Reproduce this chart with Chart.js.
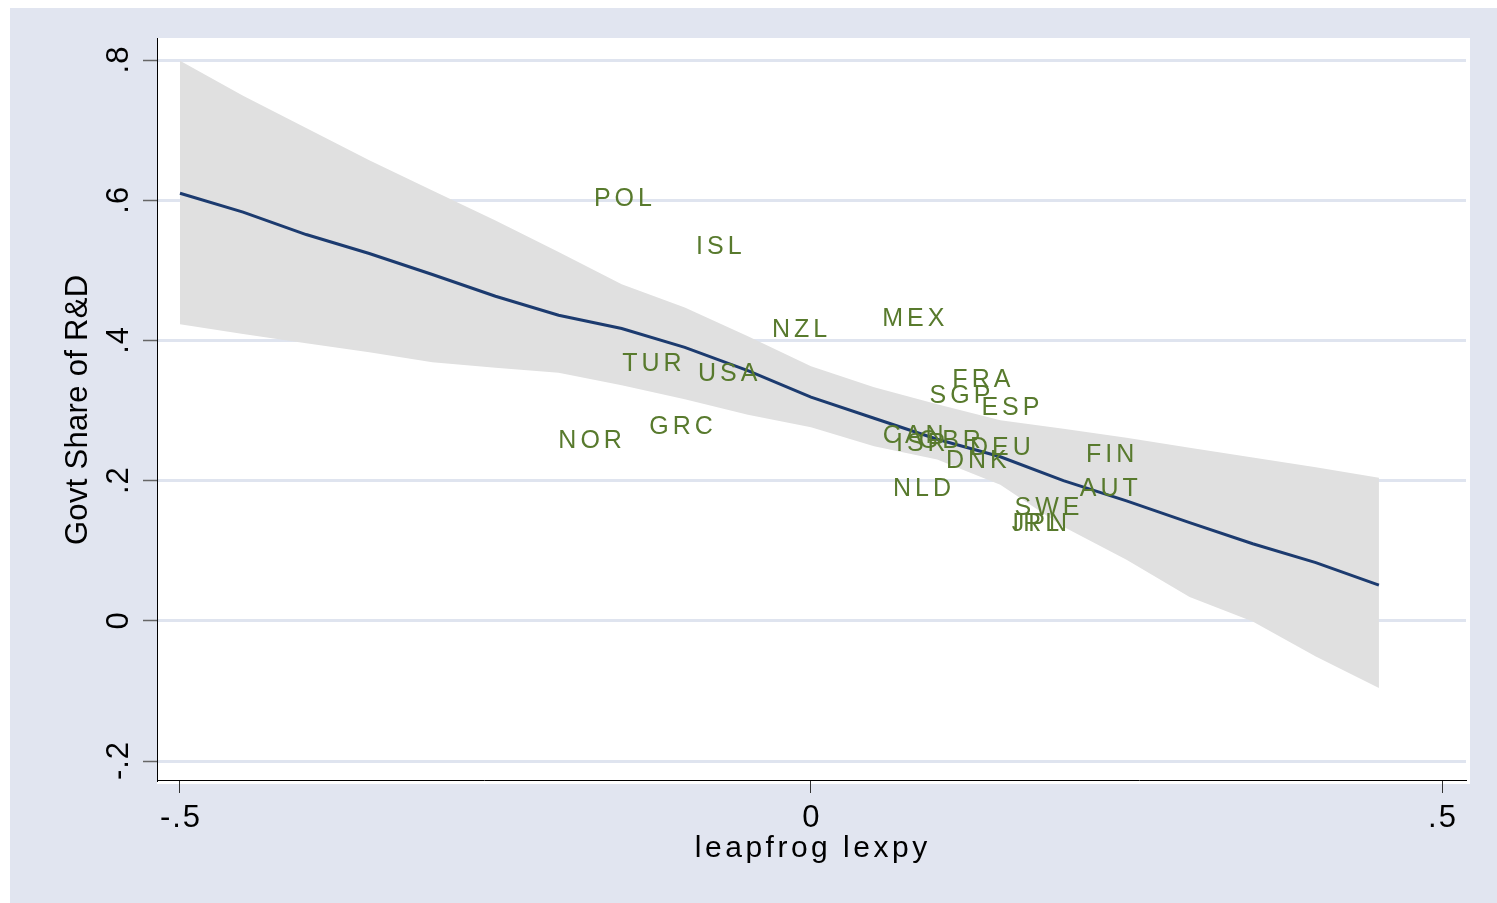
<!DOCTYPE html>
<html>
<head>
<meta charset="utf-8">
<title>Govt Share of R&amp;D vs leapfrog lexpy</title>
<script src="https://cdn.jsdelivr.net/npm/chart.js@4.4.0/dist/chart.umd.min.js"></script>
<style>
  html, body { margin: 0; padding: 0; background: #ffffff; }
  #wrap { width: 1497px; height: 903px; position: relative; }
  canvas { display: block; }
</style>
</head>
<body>
<div id="wrap"><canvas id="chart" width="1497" height="903"></canvas></div>
<script>
// Country labels placed at (leapfrog lexpy, government share of R&D)
const countries = ['POL', 'ISL', 'NZL', 'MEX', 'TUR', 'USA', 'GRC', 'NOR', 'FRA', 'SGP', 'ESP',
                   'CAN', 'ISR', 'GBR', 'DEU', 'DNK', 'NLD', 'FIN', 'AUT', 'SWE', 'JPN', 'IRL'];
const countryX = [-0.149, -0.073, -0.009, 0.081, -0.126, -0.066, -0.103, -0.175, 0.135, 0.118, 0.158,
                  0.081, 0.087, 0.110, 0.150, 0.131, 0.088, 0.237, 0.236, 0.187, 0.181, 0.178];
const countryY = [0.605, 0.536, 0.417, 0.434, 0.369, 0.355, 0.279, 0.259, 0.347, 0.324, 0.307,
                  0.267, 0.255, 0.260, 0.249, 0.231, 0.191, 0.240, 0.191, 0.164, 0.141, 0.141];

// Fitted curve and its confidence band on an evaluation grid
const gridX = [-0.50, -0.45, -0.40, -0.35, -0.30, -0.25, -0.20, -0.15, -0.10, -0.05,
                0.00,  0.05,  0.10,  0.15,  0.20,  0.25,  0.30,  0.35,  0.40,  0.45];
const fitY = [0.610, 0.583, 0.551, 0.524, 0.494, 0.463, 0.436, 0.417, 0.390, 0.357,
              0.319, 0.289, 0.259, 0.234, 0.200, 0.171, 0.140, 0.110, 0.083, 0.051];
const ciUpper = [0.799, 0.749, 0.703, 0.657, 0.614, 0.571, 0.526, 0.480, 0.447, 0.406,
                 0.363, 0.333, 0.309, 0.286, 0.274, 0.261, 0.247, 0.233, 0.219, 0.204];
const ciLower = [0.423, 0.409, 0.396, 0.383, 0.369, 0.361, 0.354, 0.336, 0.316, 0.294,
                 0.276, 0.249, 0.230, 0.194, 0.134, 0.087, 0.034, -0.001, -0.051, -0.096];

// Axis ticks and their labels
const xTicks = [-0.5, 0, 0.5];
const xTickLabels = ['-.5', '0', '.5'];
const yTicks = [-0.2, 0, 0.2, 0.4, 0.6, 0.8];
const yTickLabels = ['-.2', '0', '.2', '.4', '.6', '.8'];
const xTitle = 'leapfrog lexpy';
const yTitle = 'Govt Share of R&D';

const FONT = '"Liberation Sans", Arial, Helvetica, sans-serif';
const COLORS = {
  outer: '#e1e5f0',
  plot: '#ffffff',
  grid: '#dfe4ef',
  band: '#e0e0e0',
  fit: '#1c3b6f',
  label: '#587a2d',
  text: '#000000'
};

const toPoints = (xs, ys) => xs.map((x, i) => ({ x: x, y: ys[i] }));

// Draw text character by character with extra tracking; returns nothing
function spacedText(ctx, text, x, y, spacing, align) {
  const chars = Array.from(text);
  const widths = chars.map(c => ctx.measureText(c).width);
  const total = widths.reduce((a, b) => a + b, 0) + spacing * (chars.length - 1);
  let cx = align === 'center' ? x - total / 2 : (align === 'right' ? x - total : x);
  ctx.textAlign = 'left';
  chars.forEach((c, i) => {
    ctx.fillText(c, cx, y);
    cx += widths[i] + spacing;
  });
}

const backgroundPlugin = {
  id: 'stataBackground',
  beforeDraw(chart) {
    const ctx = chart.ctx;
    const a = chart.chartArea;
    ctx.save();
    ctx.fillStyle = '#ffffff';
    ctx.fillRect(0, 0, chart.width, chart.height);
    ctx.fillStyle = COLORS.outer;
    ctx.fillRect(10, 8, chart.width - 10, chart.height - 8);
    ctx.fillStyle = COLORS.plot;
    ctx.fillRect(a.left, a.top, a.right - a.left + 4, a.bottom - a.top + 4);
    ctx.restore();
  }
};

const textPlugin = {
  id: 'stataText',
  afterDraw(chart) {
    const ctx = chart.ctx;
    const xs = chart.scales.x;
    const ys = chart.scales.y;
    const a = chart.chartArea;
    ctx.save();
    ctx.fillStyle = COLORS.text;
    ctx.textBaseline = 'alphabetic';

    // x tick labels
    ctx.font = '31px ' + FONT;
    xTicks.forEach((v, i) => {
      spacedText(ctx, xTickLabels[i], xs.getPixelForValue(v), a.bottom + 47, 2, 'center');
    });

    // y tick labels, rotated to read upward
    yTicks.forEach((v, i) => {
      ctx.save();
      ctx.translate(a.left - 29, ys.getPixelForValue(v));
      ctx.rotate(-Math.PI / 2);
      spacedText(ctx, yTickLabels[i], 0, 0, 1, 'center');
      ctx.restore();
    });

    // axis titles
    ctx.font = '30px ' + FONT;
    spacedText(ctx, xTitle, (xs.getPixelForValue(0)), a.bottom + 77, 3.5, 'center');
    ctx.font = '31px ' + FONT;
    ctx.save();
    ctx.translate(87, (a.top + a.bottom) / 2 + 1);
    ctx.rotate(-Math.PI / 2);
    spacedText(ctx, yTitle, 0, 0, 0.3, 'center');
    ctx.restore();

    // country labels centred on their positions
    const meta = chart.getDatasetMeta(3);
    ctx.fillStyle = COLORS.label;
    ctx.font = '25px ' + FONT;
    meta.data.forEach((pt, i) => {
      spacedText(ctx, countries[i], pt.x, pt.y + 9, 4, 'center');
    });
    ctx.restore();
  }
};

const fixedTicks = values => scale => {
  scale.ticks = values.map(v => ({ value: v }));
};

new Chart(document.getElementById('chart'), {
  type: 'line',
  data: {
    datasets: [
      {
        label: 'fit',
        data: toPoints(gridX, fitY),
        borderColor: COLORS.fit,
        borderWidth: 3,
        pointRadius: 0,
        fill: false,
        tension: 0
      },
      {
        label: 'upper',
        data: toPoints(gridX, ciUpper),
        borderColor: 'rgba(0,0,0,0)',
        borderWidth: 0,
        backgroundColor: COLORS.band,
        pointRadius: 0,
        fill: '+1',
        tension: 0
      },
      {
        label: 'lower',
        data: toPoints(gridX, ciLower),
        borderColor: 'rgba(0,0,0,0)',
        borderWidth: 0,
        pointRadius: 0,
        fill: false,
        tension: 0
      },
      {
        label: 'countries',
        data: toPoints(countryX, countryY),
        showLine: false,
        pointRadius: 0,
        pointHoverRadius: 0,
        fill: false
      }
    ]
  },
  options: {
    responsive: false,
    animation: false,
    devicePixelRatio: 1,
    events: [],
    layout: { padding: { left: 0, top: 38, right: 31, bottom: 0 } },
    plugins: {
      legend: { display: false },
      tooltip: { enabled: false },
      title: { display: false }
    },
    scales: {
      x: {
        type: 'linear',
        min: -0.5182,
        max: 0.519,
        afterBuildTicks: fixedTicks(xTicks),
        afterFit: scale => { scale.height = 123; },
        ticks: { display: false },
        grid: {
          drawOnChartArea: false,
          drawTicks: true,
          tickLength: 13,
          tickColor: '#333333',
          tickWidth: 1
        },
        border: { display: true, color: '#000000', width: 1 }
      },
      y: {
        type: 'linear',
        min: -0.2271,
        max: 0.8314,
        afterBuildTicks: fixedTicks(yTicks),
        afterFit: scale => { scale.width = 157; },
        ticks: { display: false },
        grid: {
          color: COLORS.grid,
          lineWidth: 3,
          drawTicks: true,
          tickLength: 14,
          tickColor: '#666666',
          tickWidth: 1.5
        },
        border: { display: true, color: '#000000', width: 1 }
      }
    }
  },
  plugins: [backgroundPlugin, textPlugin]
});
</script>
</body>
</html>
